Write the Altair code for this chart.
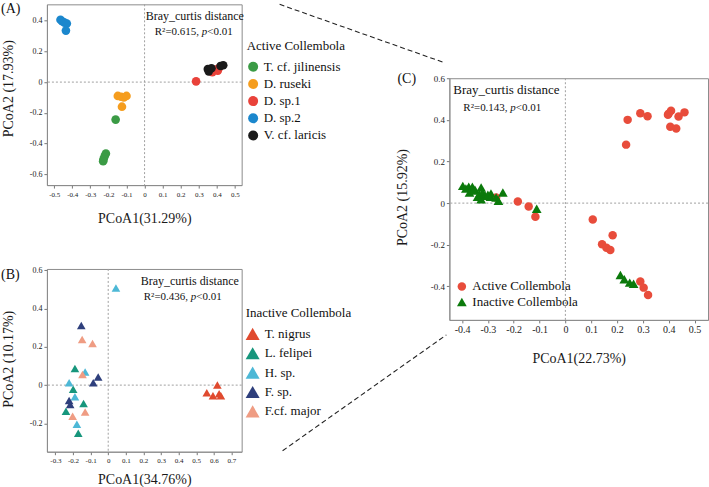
import altair as alt
import pandas as pd

SERIF = "Liberation Serif"
ONE = pd.DataFrame({"k": [0]})

# ---------------- (A) active Collembola ----------------
a_species = ["T. cf. jilinensis", "D. ruseki", "D. sp.1", "D. sp.2", "V. cf. laricis"]
a_colors = ["#3b9b45", "#f59d1e", "#e9423a", "#1b87cd", "#1a1a1a"]
a_jilinensis_x = [-0.160, -0.214, -0.221, -0.227, -0.229]
a_jilinensis_y = [-0.244, -0.465, -0.482, -0.502, -0.515]
a_ruseki_x = [-0.148, -0.130, -0.115, -0.100, -0.125]
a_ruseki_y = [-0.090, -0.095, -0.100, -0.090, -0.160]
a_sp1_x = [0.285, 0.375, 0.395, 0.410, 0.405]
a_sp1_y = [0.005, 0.065, 0.080, 0.090, 0.075]
a_sp2_x = [-0.465, -0.456, -0.443, -0.430, -0.435]
a_sp2_y = [0.406, 0.396, 0.387, 0.381, 0.335]
a_laricis_x = [0.350, 0.355, 0.370, 0.420, 0.435]
a_laricis_y = [0.085, 0.070, 0.090, 0.105, 0.110]

# ---------------- (B) inactive Collembola ----------------
b_species = ["T. nigrus", "L. felipei", "H. sp.", "F. sp.", "F.cf. major"]
b_colors = ["#e04a2f", "#17967c", "#4db8d6", "#2e3f7c", "#ef9c83"]
b_nigrus_x = [0.560, 0.595, 0.620, 0.630, 0.640]
b_nigrus_y = [-0.040, -0.055, 0.000, -0.045, -0.055]
b_felipei_x = [-0.189, -0.199, -0.140, -0.240, -0.170]
b_felipei_y = [0.087, -0.022, -0.096, -0.136, -0.251]
b_hsp_x = [0.044, -0.131, -0.222, -0.189, -0.178]
b_hsp_y = [0.508, 0.068, 0.012, -0.061, -0.205]
b_fsp_x = [-0.153, -0.057, -0.085, -0.222, -0.216]
b_fsp_y = [0.312, 0.042, 0.012, -0.080, -0.101]
b_major_x = [-0.148, -0.089, -0.146, -0.131, -0.202]
b_major_y = [0.239, 0.218, 0.056, -0.141, -0.163]

# ---------------- (C) active vs inactive ----------------
c_groups = ["Active Collembola", "Inactive Collembola"]
c_colors = ["#e84c3b", "#0b7a0b"]
c_active_x = [-0.268, -0.184, -0.142, -0.116, 0.241, 0.290, 0.318, 0.397, 0.409, 0.438,
              0.461, 0.406, 0.429, 0.235, 0.400, 0.106, 0.183, 0.142, 0.159, 0.174,
              0.290, 0.303, 0.320]
c_active_y = [0.027, 0.008, -0.016, -0.066, 0.400, 0.432, 0.417, 0.424, 0.444, 0.416,
              0.436, 0.367, 0.359, 0.281, 0.430, -0.079, -0.154, -0.198, -0.214, -0.225,
              -0.377, -0.406, -0.441]
c_inactive_x = [-0.397, -0.385, -0.374, -0.360, -0.350, -0.371, -0.356, -0.333, -0.326,
                -0.320, -0.310, -0.288, -0.290, -0.268, -0.259, -0.242, -0.326, -0.340,
                -0.300, -0.111, 0.213, 0.228, 0.249, 0.264]
c_inactive_y = [0.083, 0.070, 0.079, 0.079, 0.065, 0.051, 0.060, 0.043, 0.075, 0.051,
                0.035, 0.046, 0.030, 0.027, 0.011, 0.051, 0.019, 0.030, 0.040, -0.027,
                -0.345, -0.366, -0.382, -0.387]


def frame(groups, field):
    parts = [pd.DataFrame({"x": xs, "y": ys, field: name}) for name, xs, ys in groups]
    return pd.concat(parts, ignore_index=True)


df_a = frame([(a_species[0], a_jilinensis_x, a_jilinensis_y),
              (a_species[1], a_ruseki_x, a_ruseki_y),
              (a_species[2], a_sp1_x, a_sp1_y),
              (a_species[3], a_sp2_x, a_sp2_y),
              (a_species[4], a_laricis_x, a_laricis_y)], "species")
df_b = frame([(b_species[0], b_nigrus_x, b_nigrus_y),
              (b_species[1], b_felipei_x, b_felipei_y),
              (b_species[2], b_hsp_x, b_hsp_y),
              (b_species[3], b_fsp_x, b_fsp_y),
              (b_species[4], b_major_x, b_major_y)], "species")
df_c = frame([(c_groups[0], c_active_x, c_active_y),
              (c_groups[1], c_inactive_x, c_inactive_y)], "group")

# tick labels with a plain hyphen for negatives
NEG = "datum.value < 0 ? '-' + format(-datum.value, '.1~f') : format(datum.value, '.1~f')"

CHAR_W = {"R": 0.667, "\u00b2": 0.3, "=": 0.564, ".": 0.25, ",": 0.25, " ": 0.25,
          "<": 0.564, "p": 0.5}


def axis(values, title, label_size, tx=None, ty=None):
    kw = dict(values=values, tickCount=len(values) + 2, title=title, labelExpr=NEG,
              grid=False, labelOverlap=False,
              labelFontSize=label_size, labelFont=SERIF, labelColor="#222",
              tickColor="#777", tickSize=3, domainColor="#8c8c8c", labelPadding=2,
              titleFont=SERIF, titleFontSize=14, titleFontWeight="normal",
              titleColor="#1a1a1a", titleBaseline="middle")
    if tx is not None:
        kw["titleX"] = tx
    if ty is not None:
        kw["titleY"] = ty
    return alt.Axis(**kw)


def label(text, x, y, size, style="normal"):
    return alt.Chart(ONE).mark_text(
        text=text, font=SERIF, fontSize=size, fontStyle=style, align="left",
        baseline="middle", color="#111"
    ).encode(x=alt.value(x), y=alt.value(y))


def stat_layers(r2, x0, y, size):
    head = "R\u00b2=" + r2 + ", "
    w = sum(CHAR_W.get(c, 0.5) for c in head) * size
    return [label(head, x0, y, size),
            label("p", x0 + w, y, size, "italic"),
            label("<0.01", x0 + w + 0.5 * size, y, size)]


def zero_lines():
    style = dict(color="#a0a0a0", strokeDash=[2, 2], strokeWidth=1)
    return [alt.Chart(ONE).mark_rule(**style).encode(x=alt.datum(0)),
            alt.Chart(ONE).mark_rule(**style).encode(y=alt.datum(0))]


def connector(x1, y1, x2, y2):
    return alt.Chart(ONE).mark_rule(color="#222", strokeDash=[5, 3], strokeWidth=1.1).encode(
        x=alt.value(x1), y=alt.value(y1), x2=alt.value(x2), y2=alt.value(y2))


def legend(title, lx, ly, symbol, size, row_pad, offset):
    kw = dict(orient="none", legendX=lx, legendY=ly, padding=0,
              labelFont=SERIF, labelFontSize=13, labelColor="#111",
              symbolSize=size, symbolType=symbol, symbolStrokeWidth=0, symbolOpacity=1,
              rowPadding=row_pad, labelOffset=offset)
    if title:
        kw.update(title=title, titleFont=SERIF, titleFontSize=13, titleFontWeight="normal",
                  titleColor="#111", titlePadding=7)
    return alt.Legend(**kw)


# ---- panel A ----
pts_a = alt.Chart(df_a).mark_point(filled=True, shape="circle", size=75, opacity=1).encode(
    x=alt.X("x:Q", scale=alt.Scale(domain=[-0.54, 0.537], nice=False, zero=False),
            axis=axis([-0.5, -0.4, -0.3, -0.2, -0.1, 0, 0.1, 0.2, 0.3, 0.4, 0.5],
                      "PCoA1(31.29%)", 7, ty=33)),
    y=alt.Y("y:Q", scale=alt.Scale(domain=[-0.67, 0.506], nice=False, zero=False),
            axis=axis([-0.6, -0.4, -0.2, 0, 0.2, 0.4], "PCoA2 (17.93%)", 8, tx=-38, ty=84)),
    color=alt.Color("species:N", scale=alt.Scale(domain=a_species, range=a_colors),
                    legend=legend("Active Collembola", 200, 36, "circle", 100, 3.2, 4)),
)
chart_a = alt.layer(
    *zero_lines(), pts_a,
    label("Bray_curtis distance", 99, 12, 12),
    *stat_layers("0.615", 108, 28, 11),
    label("(A)", -46, 5, 14),
).properties(width=195, height=181)

# ---- panel B ----
pts_b = alt.Chart(df_b).mark_point(filled=True, shape="triangle-up", size=75, opacity=1).encode(
    x=alt.X("x:Q", scale=alt.Scale(domain=[-0.348, 0.758], nice=False, zero=False),
            axis=axis([-0.3, -0.2, -0.1, 0, 0.1, 0.2, 0.3, 0.4, 0.5, 0.6, 0.7],
                      "PCoA1(34.76%)", 7, ty=28)),
    y=alt.Y("y:Q", scale=alt.Scale(domain=[-0.348, 0.607], nice=False, zero=False),
            axis=axis([-0.2, 0, 0.2, 0.4, 0.6], "PCoA2 (10.17%)", 8, tx=-38, ty=90)),
    color=alt.Color("species:N", scale=alt.Scale(domain=b_species, range=b_colors),
                    legend=legend("Inactive Collembola", 199, 38, "triangle-up", 196, 5.4, 5)),
)
chart_b = alt.layer(
    *zero_lines(), pts_b,
    label("Bray_curtis distance", 94, 12, 12),
    *stat_layers("0.436", 97, 28, 11),
    label("(B)", -46, 6, 14),
).properties(width=195, height=183)

# ---- panel C ----
c_legend = legend(None, 6, 202, "circle", 170, 1.6, 4)
pts_c = alt.Chart(df_c).mark_point(filled=True, opacity=1).encode(
    x=alt.X("x:Q", scale=alt.Scale(domain=[-0.449, 0.552], nice=False, zero=False),
            axis=axis([-0.4, -0.3, -0.2, -0.1, 0, 0.1, 0.2, 0.3, 0.4, 0.5],
                      "PCoA1(22.73%)", 10, ty=39)),
    y=alt.Y("y:Q", scale=alt.Scale(domain=[-0.561, 0.6], nice=False, zero=False),
            axis=axis([-0.4, -0.2, 0, 0.2, 0.4, 0.6], "PCoA2 (15.92%)", 9, tx=-47, ty=119)),
    color=alt.Color("group:N", scale=alt.Scale(domain=c_groups, range=c_colors),
                    title=None, legend=c_legend),
    shape=alt.Shape("group:N", scale=alt.Scale(domain=c_groups, range=["circle", "triangle-up"]),
                    title=None, legend=c_legend),
    size=alt.Size("group:N", scale=alt.Scale(domain=c_groups, range=[72, 95]), legend=None),
)
chart_c = alt.layer(
    *zero_lines(), pts_c,
    label("Bray_curtis distance", 4, 12, 13),
    *stat_layers("0.143", 14, 30, 11),
    label("(C)", -52, 1, 14),
    connector(-170, -74, -5, -15.6),
    connector(-167, 373, -3, 257),
).properties(width=259, height=242)

spacer = alt.Chart(ONE).mark_point(opacity=0).encode(
    x=alt.value(0), y=alt.value(0)
).properties(width=259, height=1, view=alt.ViewBackground(stroke="transparent"))

left = alt.vconcat(chart_a, chart_b, spacing=84, bounds="flush").resolve_scale(
    color="independent", shape="independent", size="independent")
right = alt.vconcat(spacer, chart_c, spacing=73, bounds="flush").resolve_scale(
    color="independent", shape="independent", size="independent")

# in flush mode the nested left column counts as zero width, so the gap is
# measured from the left edge of panels A/B to the left edge of panel C
chart = alt.hconcat(left, right, spacing=403, bounds="flush").resolve_scale(
    color="independent", shape="independent", size="independent"
).properties(
    padding={"left": 0, "top": 0, "right": 0, "bottom": 0}, background="white"
).configure(font=SERIF).configure_view(stroke="#8c8c8c", strokeWidth=1)

chart.save("out.html", embed_options={"renderer": "svg", "actions": False})
